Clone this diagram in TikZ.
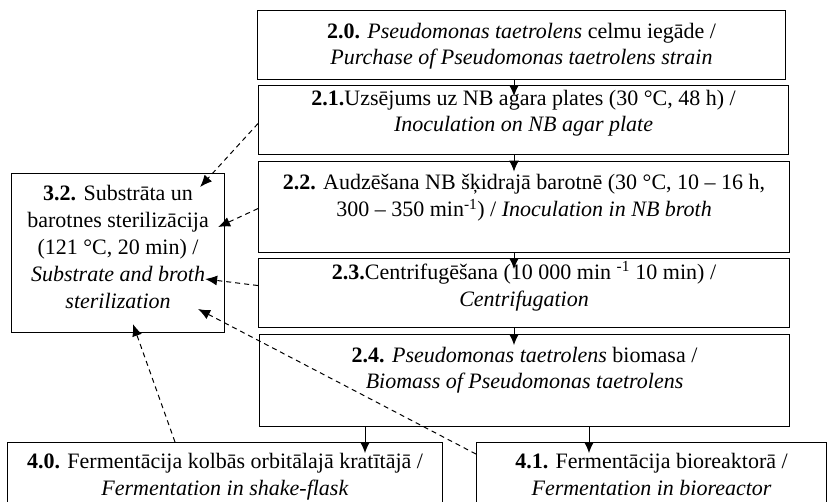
\documentclass[tikz,border=0pt]{standalone}
\usepackage{fontspec}
\setmainfont{Liberation Serif}
\usetikzlibrary{arrows.meta,calc}
\newcommand\ls{\rule[-7.5pt]{0pt}{26.5pt}}
\tikzset{
  pbox/.style 2 args={draw, line width=1.1pt, minimum width=#1, minimum height=#2,
    inner sep=0pt, anchor=north west},
  txt/.style={font=\fontsize{22}{26.5}\selectfont, align=center, inner sep=0pt, anchor=north},
  wtxt/.style={txt, font=\fontsize{22}{27}\selectfont},
  arr/.style={-{Latex[length=11pt,width=10pt]}, line width=1pt},
  darr/.style={-{Latex[length=12pt,width=10pt]}, line width=1pt, dash pattern=on 5pt off 4pt},
}
\begin{document}
\begin{tikzpicture}[x=1pt,y=-1pt]
\fill[white] (0,0) rectangle (827,501);
\clip (0,0) rectangle (827,501);

% boxes
\node[pbox={528pt}{69pt}] (b20) at (257,10) {};
\node[pbox={530pt}{69pt}] (b21) at (258,85) {};
\node[pbox={531pt}{91pt}] (b22) at (258,160.5) {};
\node[pbox={531pt}{69pt}] (b23) at (258,258) {};
\node[pbox={530pt}{92pt}] (b24) at (259,334) {};
\node[pbox={213pt}{159pt}] (b32) at (11,173) {};
\node[pbox={435pt}{80pt}] (b40) at (7,442) {};
\node[pbox={350pt}{80pt}] (b41) at (476,442) {};

% texts
\node[txt] (t20) at ([yshift=-9pt]b20.north) {\ls\textbf{2.0.} \textit{Pseudomonas taetrolens} celmu iegāde /\\\ls\textit{Purchase of Pseudomonas taetrolens strain}};
\node[txt] (t21) at ([yshift=-1pt]b21.north) {\ls\textbf{2.1.}Uzsējums uz NB agara plates (30 °C, 48 h) /\\\ls\textit{Inoculation on NB agar plate}};
\node[wtxt] (t22) at ([yshift=-10pt]b22.north) {\ls\textbf{2.2.} Audzēšana NB šķidrajā barotnē (30 °C, 10 – 16 h,\\\ls 300 – 350 min\textsuperscript{-1}) / \textit{Inoculation in NB broth}};
\node[wtxt] (t23) at ([yshift=-2pt]b23.north) {\ls\textbf{2.3.}Centrifugēšana (10 000 min \textsuperscript{-1} 10 min) /\\\ls\textit{Centrifugation}};
\node[txt] (t24) at ([yshift=-9pt]b24.north) {\ls\textbf{2.4.} \textit{Pseudomonas taetrolens} biomasa /\\\ls\textit{Biomass of Pseudomonas taetrolens}};
\node[wtxt] (t32) at ([yshift=-8pt]b32.north) {\ls\textbf{3.2.} Substrāta un\\\ls barotnes sterilizācija\\\ls(121 °C, 20 min) /\\\ls\textit{Substrate and broth}\\\ls\textit{sterilization}};
\node[wtxt] (t40) at ([yshift=-7pt]b40.north) {\ls\textbf{4.0.} Fermentācija kolbās orbitālajā kratītājā /\\\ls\textit{Fermentation in shake-flask}};
\node[wtxt] (t41) at ([yshift=-7pt]b41.north) {\ls\textbf{4.1.} Fermentācija bioreaktorā /\\\ls\textit{Fermentation in bioreactor}};

% solid connectors
\coordinate (ax) at (514,0);
\coordinate (bx) at (365,0);
\coordinate (cx) at (589,0);
\draw[arr] (b20.south -| ax) -- ($(b21.north -| ax)+(0,11)$);
\draw[arr] (b21.south -| ax) -- ($(b22.north -| ax)+(0,11)$);
\draw[arr] (b22.south -| ax) -- ($(b23.north -| ax)+(0,11)$);
\draw[arr] (b23.south -| ax) -- ($(b24.north -| ax)+(0,11)$);
\draw[arr] (b24.south -| bx) -- ($(b40.north -| bx)+(0,11)$);
\draw[arr] (b24.south -| cx) -- ($(b41.north -| cx)+(0,11)$);

% dashed connectors
\draw[darr] ([yshift=-3.5pt]b21.west) -- ($(b32.north east)+(-25,14)$);
\draw[darr] ([yshift=-2pt]b22.west) -- ($(b32.north east)+(-7,54)$);
\draw[darr] ([yshift=7.5pt]b23.west) -- ($(b32.north east)+(-20,106)$);
\draw[darr] ([yshift=28.5pt]b41.west) -- ($(b32.north east)+(-27,136)$);
\draw[darr] ([xshift=168pt]b40.north west) -- ($(b32.south west)+(122,-9)$);
\end{tikzpicture}
\end{document}
